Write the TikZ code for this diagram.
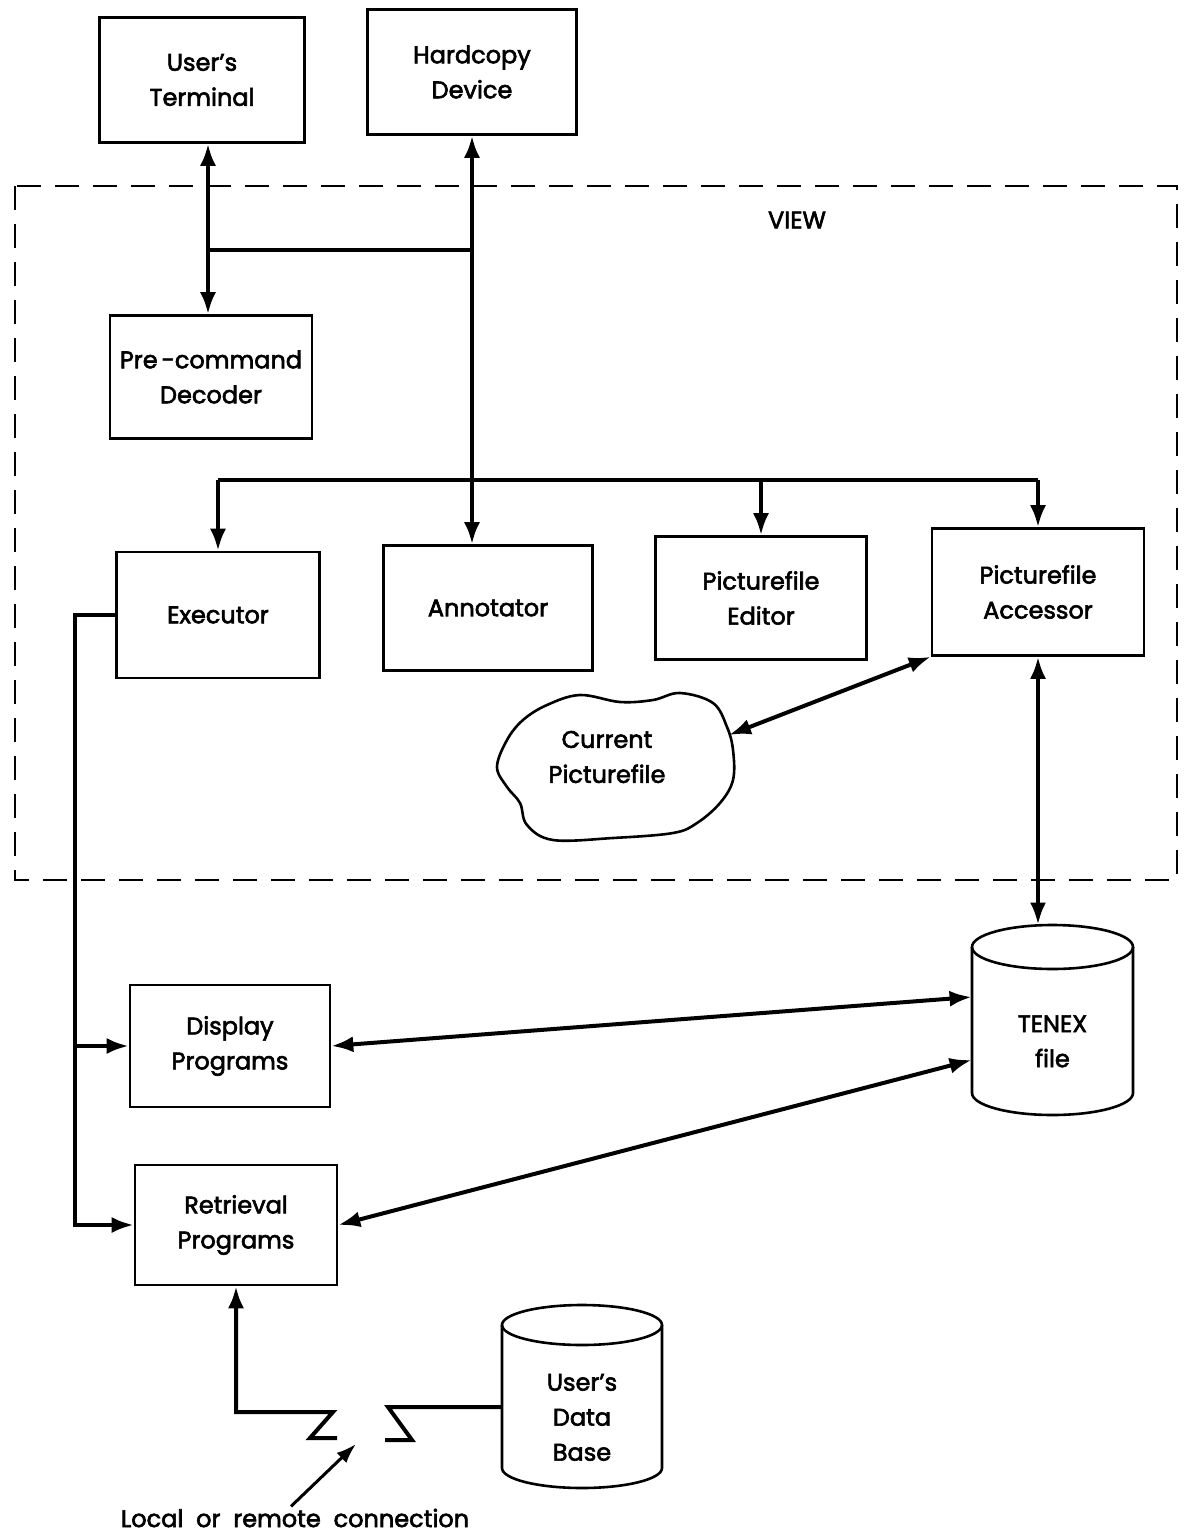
\documentclass[tikz,border=0pt]{standalone}
\usepackage{fontspec}
\setmainfont{Poppins}[FakeBold=2.5]
\usetikzlibrary{arrows.meta}
\newcommand{\apos}{\char39 }
\begin{document}
\begin{tikzpicture}[x=0.5pt,y=-0.5pt,
  lbl/.style={align=center, font=\fontsize{12}{17.5}\selectfont, inner sep=0pt},
  box/.style={lbl, draw, line width=1.3pt},
  wire/.style={line width=2pt},
  arr/.style={wire, -{Latex[length=11pt,width=8pt]}},
  darr/.style={wire, {Latex[length=11pt,width=8pt]}-{Latex[length=11pt,width=8pt]}},
  viewbox/.style={line width=1.2pt, dash pattern=on 12pt off 7pt},
  outline/.style={line width=1.3pt}]
\fill[white] (0,0) rectangle (1183,1540);
\useasboundingbox (0,0) rectangle (1183,1540);

% boxes
\node[box, minimum width=102.5pt, minimum height=62.5pt] (term) at (202,80) {User\apos s\\Terminal};
\node[box, minimum width=104.5pt, minimum height=62.5pt] (hard) at (472,72) {Hardcopy\\Device};
\node[box, minimum width=101pt, minimum height=61.5pt] (pre) at (211,377) {Pre\,-command\\Decoder};
\node[box, minimum width=101.5pt, minimum height=63pt] (exe) at (218,615) {Executor};
\node[box, minimum width=104.5pt, minimum height=62.5pt] (ann) at (488,608) {Annotator};
\node[box, minimum width=105.5pt, minimum height=61.5pt] (ped) at (761,598) {Picturefile\\Editor};
\node[box, minimum width=106pt, minimum height=63.5pt] (pac) at (1038,592) {Picturefile\\Accessor};
\node[box, minimum width=100pt, minimum height=61pt] (disp) at (230,1046) {Display\\Programs};
\node[box, minimum width=101pt, minimum height=60pt] (ret) at (236,1225) {Retrieval\\Programs};

\node[lbl] (view) at (797,220) {VIEW};
\draw[viewbox] (15,186) rectangle (1177,880);

% TENEX file cylinder
\draw[outline] (1052.5,947) ellipse[x radius=40.25pt, y radius=11pt];
\draw[outline] (972,947) -- (972,1093) arc[start angle=180,end angle=360,x radius=40.25pt,y radius=11pt] -- (1133,947);
\node[lbl, minimum width=80.5pt, minimum height=95pt] (tenex) at (1052.5,1020) {\strut\\TENEX\\file};

% User's Data Base cylinder
\draw[outline] (582,1325) ellipse[x radius=40pt, y radius=10pt];
\draw[outline] (502,1325) -- (502,1468) arc[start angle=180,end angle=360,x radius=40pt,y radius=10pt] -- (662,1325);
\node[lbl, minimum width=80pt, minimum height=91.5pt] (db) at (582,1396) {\strut\\User\apos s\\Data\\Base};

% cloud
\draw[outline] plot[smooth cycle, tension=0.6] coordinates {(547,705) (580,695) (620,702) (653,700) (680,693) (713,703) (727,727) (733,750) (733,780) (720,803) (697,823) (673,833) (613,838) (553,840) (527,825) (520,803) (507,787) (497,767) (507,740) (523,720)};
\node[lbl] (cloud) at (607,757) {Current\\Picturefile};
\coordinate (cloudE) at (729,735);

% connectors
\coordinate (tx) at (208,250);
\draw[darr] (term.south -| tx) -- (pre.north -| tx);
\draw[darr] (hard.south) -- (hard.south |- ann.north);
\draw[wire] (tx) -- (tx -| hard.south);
\coordinate (busY) at (0,480);
\draw[wire] (exe.north |- busY) -- (pac.north |- busY);
\draw[arr] (exe.north |- busY) -- (exe.north);
\draw[arr] (ped.north |- busY) -- (ped.north);
\draw[arr] (pac.north |- busY) -- (pac.north);
\draw[darr] (cloudE) -- (pac.south west);
\draw[darr] (pac.south) -- (pac.south |- tenex.north);
\coordinate (trunk) at (75,0);
\draw[arr] (exe.west) -- (exe.west -| trunk) -- (ret.west -| trunk) -- (ret.west);
\draw[arr] (disp.west -| trunk) -- (disp.west);
\draw[darr] (disp.east) -- ([yshift=11.5pt]tenex.west);
\draw[darr] (ret.east) -- ([yshift=-20pt]tenex.west);

% remote link
\coordinate (zA) at (333,1412);
\draw[wire, {Latex[length=11pt,width=8pt]}-] (ret.south) |- (zA) -- (310,1438) -- (337,1438);
\coordinate (zB) at (388,1407);
\draw[wire] (db.west |- zB) -- (zB) -- (412,1440) -- (385,1440);
\node[lbl] (conn) at (295,1518) {Local\ \ or\ \ remote\ \ connection};
\coordinate (gap) at (356,1444);
\draw[line width=1.5pt, -{Latex[length=10pt,width=7pt]}] ([xshift=-2pt,yshift=1pt]conn.north) -- (gap);
\end{tikzpicture}
\end{document}
